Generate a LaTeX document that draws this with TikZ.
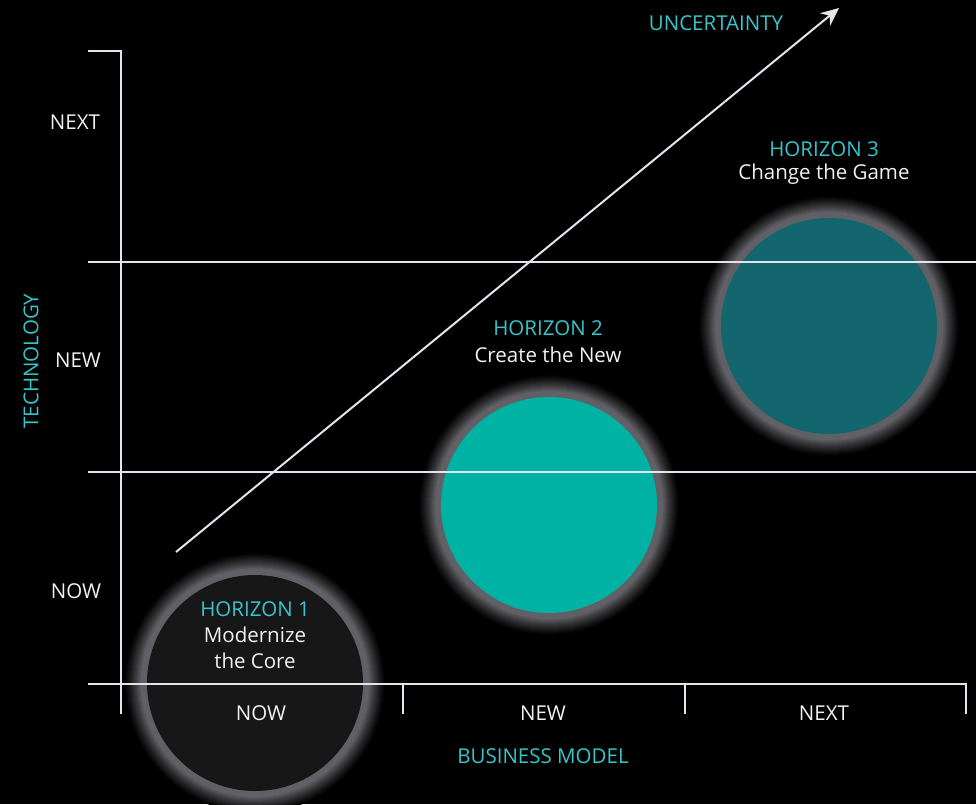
\documentclass[tikz,border=0pt]{standalone}
\usepackage{fontspec}
\setmainfont{Open Sans}
\usetikzlibrary{arrows.meta}
\definecolor{bg}{HTML}{000000}
\definecolor{linec}{HTML}{E4E4EC}
\definecolor{tealtext}{HTML}{36C6CC}
\definecolor{whitetext}{HTML}{F2F2F2}
\definecolor{hone}{HTML}{171717}
\definecolor{htwo}{HTML}{00B2A3}
\definecolor{hthree}{HTML}{13666E}
\definecolor{glowc}{HTML}{606066}
\tikzset{
  axisline/.style={draw=linec, line width=1.8pt},
  lbl/.style={text=whitetext, font=\fontsize{20.5}{24}\selectfont, inner sep=0pt},
  tlbl/.style={text=tealtext, font=\fontsize{20.5}{24}\selectfont, inner sep=0pt},
  hcircle/.style={circle, minimum size=216pt, inner sep=0pt, draw=none},
}
\newcommand{\glowat}[2]{%
  \foreach \d in {22,21,...,1}{%
    \pgfmathsetmacro{\p}{\d<7 ? 100 : 100*(1-(\d-6)/17)^1.2}%
    \fill[glowc!\p!black] (#1,#2) circle[radius=108+\d];
  }%
}
\begin{document}
\begin{tikzpicture}[x=1pt,y=-1pt]
\fill[bg] (0,0) rectangle (976,804);
\useasboundingbox (0,0) rectangle (976,804);
\clip (0,0) rectangle (976,804);

% glows and circles
\glowat{255}{683}
\glowat{549}{505}
\glowat{829}{326}
\node[hcircle, fill=hone] (h1) at (255,683) {};
\node[hcircle, fill=htwo] (h2) at (549,505) {};
\node[hcircle, fill=hthree] (h3) at (829,326) {};

% axes and grid
\coordinate (ytop) at (121,51);
\coordinate (ytopl) at (88,51);
\coordinate (ybot) at (121,714);
\draw[axisline] (ytopl) -- (ytop) -- (ybot);
\coordinate (g1l) at (88,262); \coordinate (g1r) at (976,262);
\coordinate (g2l) at (88,472); \coordinate (g2r) at (976,472);
\coordinate (bl) at (88,684); \coordinate (br) at (967,684);
\draw[axisline] (g1l) -- (g1r);
\draw[axisline] (g2l) -- (g2r);
\draw[axisline] (bl) -- (br);
\foreach \x/\n in {403/a,685/b,966/c}{
  \coordinate (t\n a) at (\x,684);
  \coordinate (t\n b) at (\x,714);
  \draw[axisline] (t\n a) -- (t\n b);
}

% uncertainty arrow
\coordinate (ustart) at (176,552);
\coordinate (uend) at (839,8);
\draw[draw=linec, line width=2pt, -{Stealth[length=18pt,width=16pt]}] (ustart) -- (uend);

% labels
\node[tlbl] (unc) at (716,23) {UNCERTAINTY};
\node[lbl] (ynext) at (75,122) {NEXT};
\node[lbl] (ynew) at (78,360) {NEW};
\node[lbl] (ynow) at (76,591) {NOW};
\node[tlbl, rotate=90] (tech) at (31,361) {TECHNOLOGY};
\node[lbl] (xnow) at (261,713) {NOW};
\node[lbl] (xnew) at (543,713) {NEW};
\node[lbl] (xnext) at (824,713) {NEXT};
\node[tlbl] (bm) at (543,756) {BUSINESS MODEL};

\node[tlbl] (h1a) at (255,609) {HORIZON 1};
\node[lbl] (h1b) at (255,635) {Modernize};
\node[lbl] (h1c) at (255,661) {the Core};
\node[tlbl] (h2a) at (548,328) {HORIZON 2};
\node[lbl] (h2b) at (548,355) {Create the New};
\node[tlbl] (h3a) at (824,149) {HORIZON 3};
\node[lbl] (h3b) at (824,174) {Change the Game};
\end{tikzpicture}
\end{document}
